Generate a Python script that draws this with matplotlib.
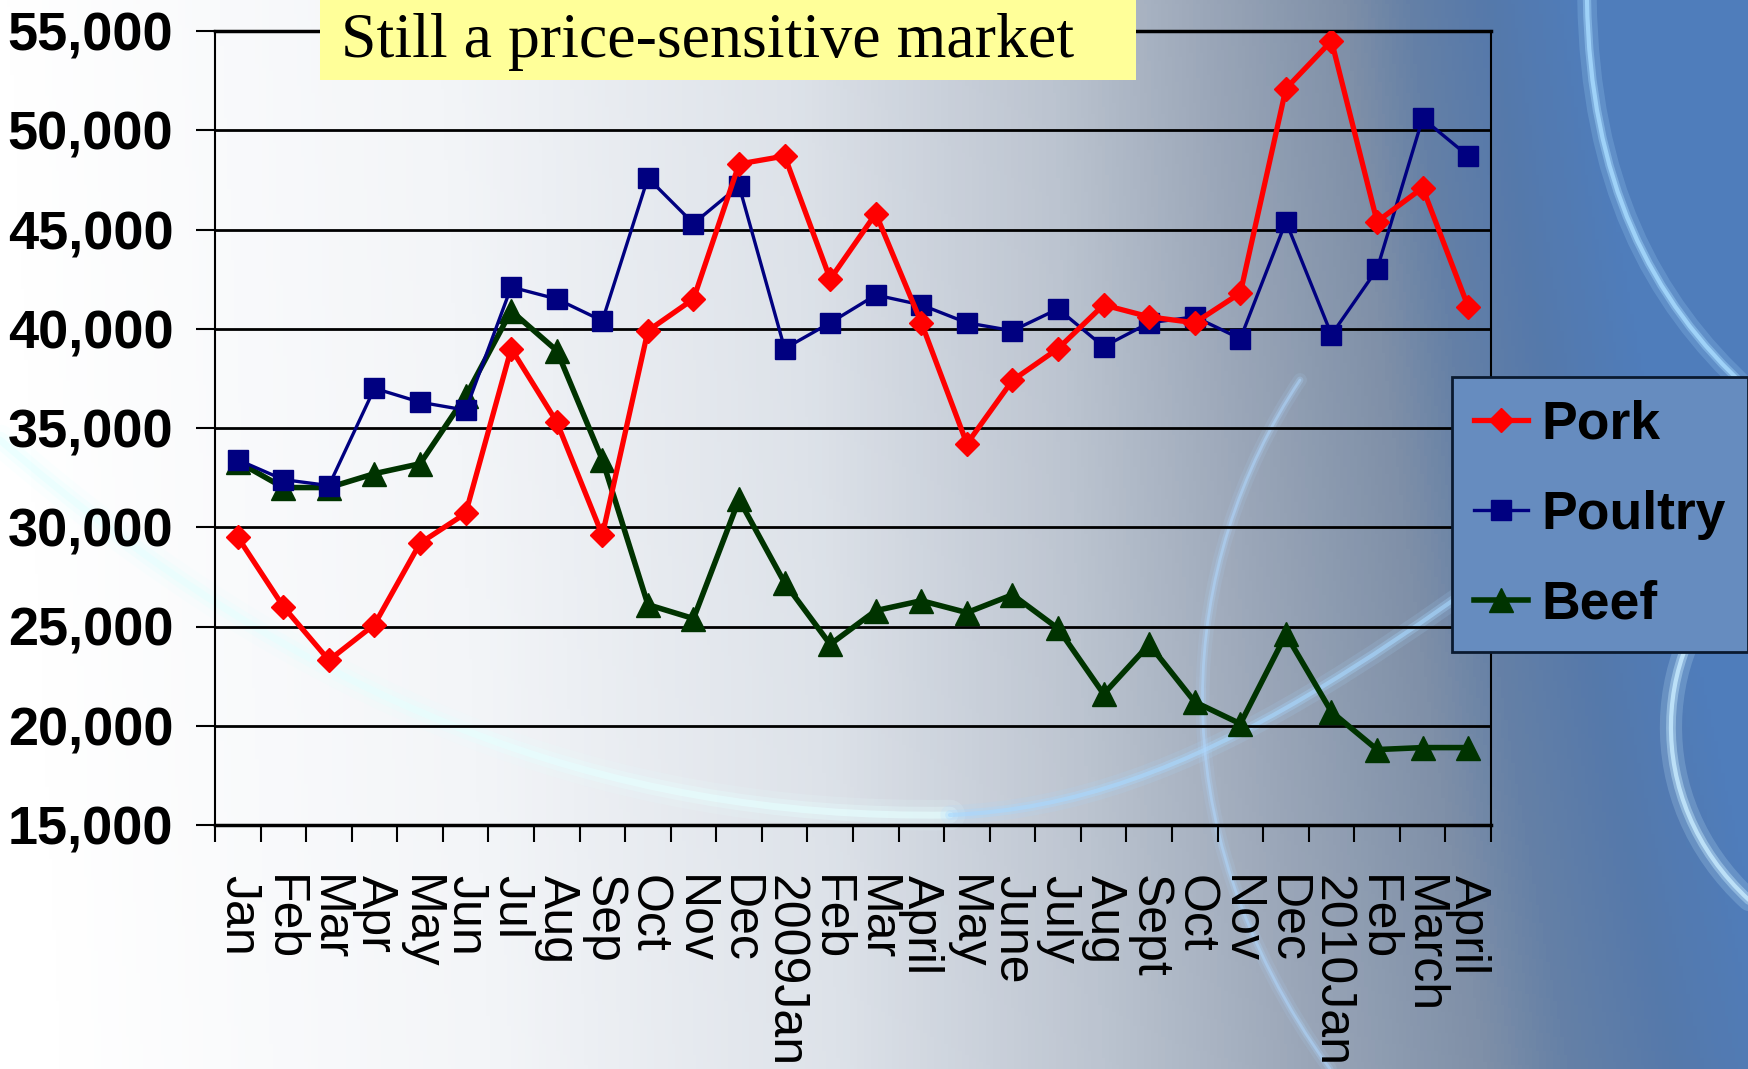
import numpy as np
import matplotlib
matplotlib.use("Agg")
import matplotlib.pyplot as plt
from matplotlib import font_manager as fm
from matplotlib.patches import Rectangle, PathPatch
from matplotlib.path import Path
from matplotlib.colors import LinearSegmentedColormap

categories = ["Jan", "Feb", "Mar", "Apr", "May", "Jun", "Jul", "Aug", "Sep", "Oct",
              "Nov", "Dec", "2009Jan", "Feb", "Mar", "April", "May", "June", "July",
              "Aug", "Sept", "Oct", "Nov", "Dec", "2010Jan", "Feb", "March", "April"]
pork = [29500, 26000, 23300, 25100, 29200, 30700, 39000, 35300, 29600, 39900,
        41500, 48300, 48700, 42500, 45800, 40300, 34200, 37400, 39000, 41200,
        40600, 40300, 41800, 52100, 54500, 45400, 47100, 41100]
poultry = [33400, 32400, 32100, 37000, 36300, 35900, 42100, 41500, 40400, 47600,
           45300, 47200, 39000, 40300, 41700, 41200, 40300, 39900, 41000, 39100,
           40300, 40600, 39500, 45400, 39700, 43000, 50600, 48700]
beef = [33300, 32000, 32000, 32700, 33200, 36600, 40900, 38900, 33400, 26100,
        25400, 31400, 27200, 24100, 25800, 26300, 25700, 26600, 24900, 21600,
        24100, 21200, 20100, 24600, 20700, 18800, 18900, 18900]
y_ticks = [15000, 20000, 25000, 30000, 35000, 40000, 45000, 50000, 55000]
title = "Still a price-sensitive market"

W, H = 1749, 1069
fig = plt.figure(figsize=(W / 100, H / 100), dpi=100)

# ---- background gradient ----
nx, ny = 500, 300
xx, yy = np.meshgrid(np.linspace(0, 1, nx), np.linspace(0, 1, ny))  # yy: 0 top, 1 bottom
cmap = LinearSegmentedColormap.from_list("bg", [
    (0.0, "#ffffff"), (0.25, "#f3f5f8"), (0.45, "#dde2e9"), (0.60, "#bcc4d0"),
    (0.72, "#9aa6b8"), (0.82, "#7f90a8"), (0.87, "#6580a6"), (0.93, "#5579ab"),
    (1.0, "#4f7dbb")])
t = np.clip(xx + 0.06 * (1 - yy) * np.clip(xx - 0.6, 0, 1) * 5 - 0.03 * yy, 0, 1)
img = cmap(t)
bg = fig.add_axes([0, 0, 1, 1], zorder=-10)
bg.imshow(img, aspect="auto", extent=[0, W, H, 0])
bg.set_xlim(0, W); bg.set_ylim(H, 0)
bg.axis("off")


def glow(verts, codes, color, widths, alphas):
    for lw, a in zip(widths, alphas):
        bg.add_patch(PathPatch(Path(verts, codes), facecolor="none", edgecolor=color,
                               lw=lw, alpha=a, capstyle="round"))


C4 = [Path.MOVETO, Path.CURVE4, Path.CURVE4, Path.CURVE4]
# left swoosh going under the plot and rising to the right
glow([(0, 440), (300, 700), (600, 820), (950, 815)], C4, "#e6ffff",
     [22, 12, 5], [0.15, 0.3, 0.6])
glow([(950, 815), (1200, 805), (1400, 640), (1700, 420)], C4, "#a8d8ff",
     [14, 7, 3], [0.15, 0.3, 0.6])
# large arc on the right side of the plot
glow([(1330, 1069), (1150, 820), (1180, 560), (1300, 380)], C4, "#b0d8ff",
     [10, 5, 2], [0.12, 0.25, 0.5])
# bright arc top-right
glow([(1587, 0), (1590, 180), (1650, 300), (1749, 390)], C4, "#a8dcff",
     [14, 6, 3], [0.2, 0.4, 0.8])
# bright arc right-middle
glow([(1749, 560), (1650, 640), (1640, 800), (1749, 900)], C4, "#c8ecff",
     [16, 7, 3], [0.2, 0.4, 0.8])

# ---- fonts ----
avail = {f.name for f in fm.fontManager.ttflist}
narrow = "Liberation Sans Narrow" if "Liberation Sans Narrow" in avail else "Liberation Sans"
big_size = 46 if narrow == "Liberation Sans Narrow" else 39
leg_size = 46 if narrow == "Liberation Sans Narrow" else 38.5

# ---- main axes ----
left, right, top, bottom = 215, 1491, 31, 825
ax = fig.add_axes([left / W, 1 - bottom / H, (right - left) / W, (bottom - top) / H])
ax.set_facecolor("none")
x = np.arange(len(categories))

ax.plot(x, pork, color="#ff0000", lw=3.8, marker="D", ms=12.5, label="Pork", zorder=5)
ax.plot(x, poultry, color="#000080", lw=2.4, marker="s", ms=14.5, label="Poultry", zorder=4)
ax.plot(x, beef, color="#003300", lw=4.0, marker="^", ms=17, label="Beef", zorder=3)

ax.set_xlim(-0.5, len(categories) - 0.5)
ax.set_ylim(15000, 55000)
ax.set_yticks(y_ticks)
ax.set_yticklabels([f"{v:,}" for v in y_ticks], family=narrow, weight="bold",
                   fontsize=big_size)
ax.yaxis.grid(True, color="black", lw=2)
ax.set_axisbelow(True)
ax.tick_params(axis="y", direction="out", length=14, width=1.5, pad=16)

ax.set_xticks(x)
ax.set_xticklabels(categories, rotation=270, family="Liberation Sans", fontsize=36,
                   ha="center", va="top")
ax.set_xticks(np.arange(-0.5, len(categories)), minor=True)
ax.tick_params(axis="x", which="major", length=0, pad=36)
ax.tick_params(axis="x", which="minor", direction="out", length=12, width=1.5)

for side in ["left", "right"]:
    ax.spines[side].set_linewidth(1.5)
    ax.spines[side].set_color("black")
for side in ["top", "bottom"]:
    ax.spines[side].set_linewidth(2.5)
    ax.spines[side].set_color("black")

# ---- legend ----
leg = fig.legend(loc="upper left", bbox_to_anchor=(1452 / W, 1 - 377 / H),
                 prop={"family": narrow, "weight": "bold", "size": leg_size},
                 handlelength=1.0, handletextpad=0.25, labelspacing=0.75,
                 borderpad=0.42, borderaxespad=0, fancybox=False, framealpha=1)
leg.get_frame().set_facecolor((0.40, 0.55, 0.75, 0.35))
leg.get_frame().set_edgecolor("#0a1a30")
leg.get_frame().set_linewidth(2)

# ---- title box ----
fig.patches.append(Rectangle((320 / W, 1 - 80 / H), (1136 - 320) / W, 80 / H,
                             transform=fig.transFigure, facecolor="#ffff99",
                             edgecolor="none", zorder=1))
fig.text(341 / W, 1 - 57 / H, title, family="Liberation Serif", fontsize=46,
         va="baseline", ha="left", color="black", zorder=2)

fig.savefig("out.png", dpi=100)
